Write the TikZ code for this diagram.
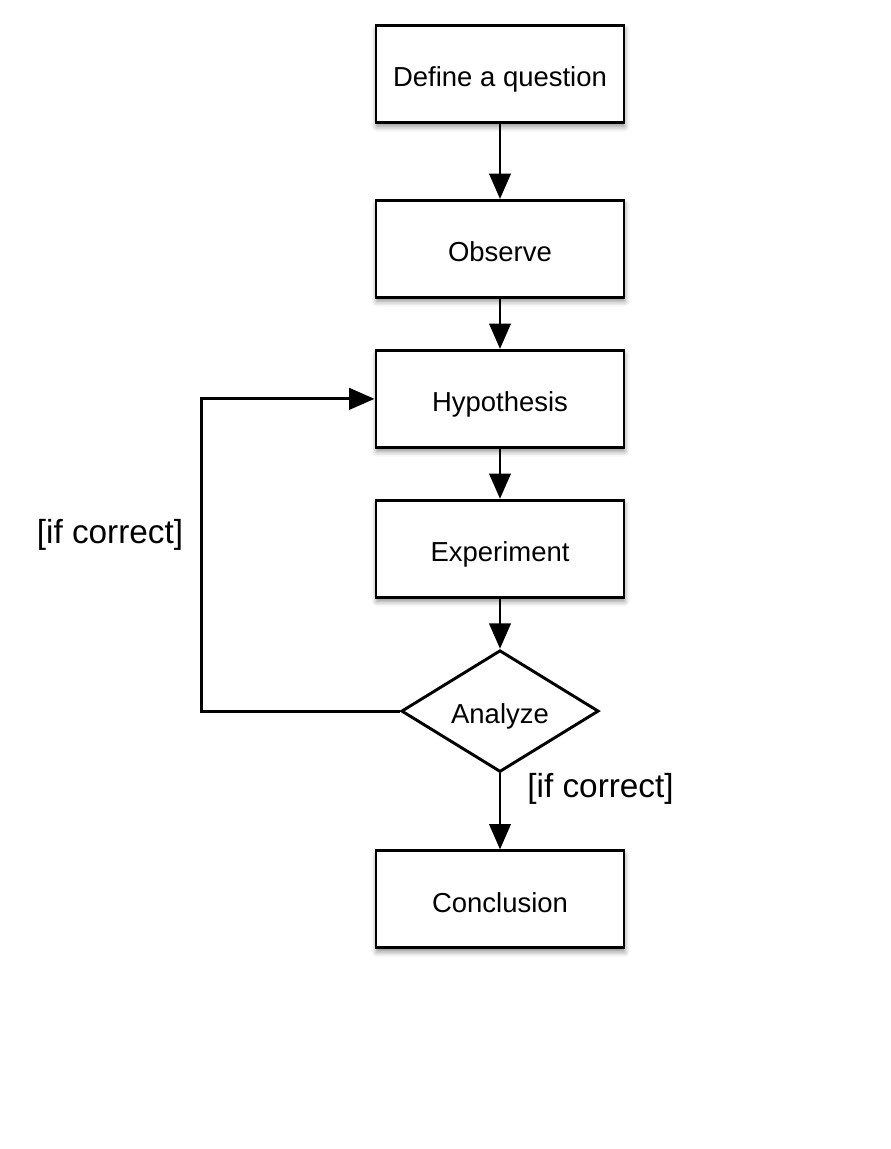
\documentclass[tikz,border=0pt]{standalone}
\usepackage{fontspec}
\setmainfont{Liberation Sans}
\usetikzlibrary{positioning,shapes.geometric,arrows.meta,shadows.blur}

\begin{document}
\begin{tikzpicture}
    \tikzset{
      step box/.style = { draw, line width = 2.2pt, fill = white, minimum width = 186pt, minimum height = 72.75pt,
        inner sep = 0pt, font = \fontsize{20.6}{24}\selectfont, text height = 19.4pt, text depth = 0pt,
        blur shadow = {shadow xshift = 0.5pt, shadow yshift = -3pt, shadow blur radius = 4pt, shadow opacity = 45} },
      decision/.style = { draw, diamond, line width = 2.2pt, fill = white, minimum width = 148pt, minimum height = 91pt,
        inner sep = 0pt, font = \fontsize{20.6}{24}\selectfont, text height = 18pt, text depth = 0pt },
      flow/.style = { line width = 2.2pt, -{Triangle[length = 19pt, width = 16pt]} },
      guard/.style = { font = \fontsize{25}{30}\selectfont },
    }
    \useasboundingbox (0,0) rectangle (668.25pt,-861.75pt);

    \node[step box] (define question) at (375pt,-55.5pt) {Define a question};
    \node[step box, below=56.25pt of define question] (observe) {Observe};
    \node[step box, below=37.5pt of observe] (hypothesis) {Hypothesis};
    \node[step box, below=37.5pt of hypothesis] (experiment) {Experiment};
    \node[decision, below=37.5pt of experiment] (analyze) {Analyze};
    \node[step box, below=57pt of analyze] (conclusion) {Conclusion};

    \coordinate[left=148.5pt of analyze.west] (loop corner);

    \node[guard] (loop guard) at (82.5pt,-401.25pt) {[if correct]};
    \node[guard, anchor=west] (end guard) at (392pt,-591.75pt) {[if correct]};

    \draw[flow] (define question) -- (observe);
    \draw[flow] (observe) -- (hypothesis);
    \draw[flow] (hypothesis) -- (experiment);
    \draw[flow] (experiment) -- (analyze);
    \draw[flow] (analyze) -- (conclusion);
    \draw[flow] (analyze.west) -- (loop corner) |- (hypothesis.west);
\end{tikzpicture}
\end{document}
